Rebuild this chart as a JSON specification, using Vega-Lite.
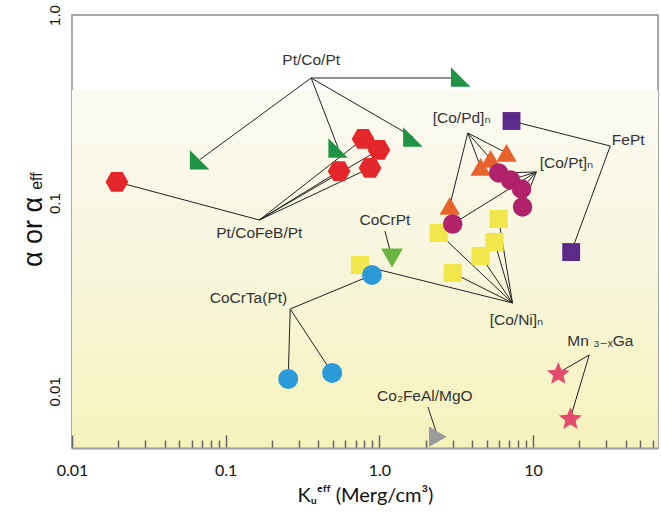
{
  "$schema": "https://vega.github.io/schema/vega-lite/v6.json",
  "width": 586,
  "height": 433,
  "autosize": {"type": "none"},
  "padding": {"left": 72, "top": 15, "right": 3, "bottom": 71},
  "background": "white",
  "config": {"view": {"stroke": "#8c8c8c", "strokeWidth": 1.5}},
  "datasets": {
    "bg": [{"x": 0.01, "x2": 65, "y": 0.005, "y2": 0.4}],
    "yminor": [
      {"y": 0.006}, {"y": 0.007}, {"y": 0.008}, {"y": 0.009},
      {"y": 0.02}, {"y": 0.03}, {"y": 0.04}, {"y": 0.05}, {"y": 0.06}, {"y": 0.07}, {"y": 0.08}, {"y": 0.09},
      {"y": 0.2}, {"y": 0.3}, {"y": 0.4}, {"y": 0.5}, {"y": 0.6}, {"y": 0.7}, {"y": 0.8}, {"y": 0.9}
    ],
    "ymajor": [{"y": 0.01}, {"y": 0.1}, {"y": 1.0}],
    "leaders": [
      {"x": 0.36, "y": 0.4626, "x2": 0.0676, "y2": 0.17},
      {"x": 0.36, "y": 0.4626, "x2": 0.539, "y2": 0.1965},
      {"x": 0.36, "y": 0.4626, "x2": 1.652, "y2": 0.2248},
      {"x": 0.36, "y": 0.4626, "x2": 3.38, "y2": 0.4626},
      {"x": 0.1655, "y": 0.0814, "x2": 0.0196, "y2": 0.1297},
      {"x": 0.1655, "y": 0.0814, "x2": 0.783, "y2": 0.2194},
      {"x": 0.1655, "y": 0.0814, "x2": 0.993, "y2": 0.1917},
      {"x": 0.1655, "y": 0.0814, "x2": 0.547, "y2": 0.148},
      {"x": 0.1655, "y": 0.0814, "x2": 0.869, "y2": 0.1538},
      {"x": 3.76, "y": 0.236, "x2": 2.87, "y2": 0.0967},
      {"x": 3.76, "y": 0.236, "x2": 4.56, "y2": 0.1557},
      {"x": 3.76, "y": 0.236, "x2": 5.29, "y2": 0.1718},
      {"x": 3.76, "y": 0.236, "x2": 6.72, "y2": 0.1848},
      {"x": 10.5, "y": 0.1465, "x2": 3.0, "y2": 0.0775},
      {"x": 10.5, "y": 0.1465, "x2": 5.97, "y2": 0.1447},
      {"x": 10.5, "y": 0.1465, "x2": 7.13, "y2": 0.1328},
      {"x": 10.5, "y": 0.1465, "x2": 8.41, "y2": 0.119},
      {"x": 10.5, "y": 0.1465, "x2": 8.54, "y2": 0.0955},
      {"x": 31.8, "y": 0.2013, "x2": 7.24, "y2": 0.2734},
      {"x": 31.8, "y": 0.2013, "x2": 17.7, "y2": 0.055},
      {"x": 1.087, "y": 0.0711, "x2": 1.208, "y2": 0.0511},
      {"x": 7.35, "y": 0.0295, "x2": 0.748, "y2": 0.0469},
      {"x": 7.35, "y": 0.0295, "x2": 2.43, "y2": 0.0694},
      {"x": 7.35, "y": 0.0295, "x2": 5.97, "y2": 0.0824},
      {"x": 7.35, "y": 0.0295, "x2": 5.62, "y2": 0.0622},
      {"x": 7.35, "y": 0.0295, "x2": 4.56, "y2": 0.0524},
      {"x": 7.35, "y": 0.0295, "x2": 3.0, "y2": 0.0426},
      {"x": 0.263, "y": 0.0274, "x2": 0.895, "y2": 0.0415},
      {"x": 0.263, "y": 0.0274, "x2": 0.255, "y2": 0.01164},
      {"x": 0.263, "y": 0.0274, "x2": 0.493, "y2": 0.01253},
      {"x": 23.2, "y": 0.0156, "x2": 14.6, "y2": 0.01253},
      {"x": 23.2, "y": 0.0156, "x2": 17.5, "y2": 0.00722},
      {"x": 2.07, "y": 0.00826, "x2": 2.4, "y2": 0.00573}
    ],
    "points": [
      {"s": "PtCoPt", "x": 0.0676, "y": 0.17},
      {"s": "PtCoPt", "x": 0.539, "y": 0.1965},
      {"s": "PtCoPt", "x": 1.652, "y": 0.2248},
      {"s": "PtCoPt", "x": 3.38, "y": 0.468},
      {"s": "PtCoFeBPt", "x": 0.0196, "y": 0.1297},
      {"s": "PtCoFeBPt", "x": 0.783, "y": 0.2194},
      {"s": "PtCoFeBPt", "x": 0.993, "y": 0.1917},
      {"s": "PtCoFeBPt", "x": 0.547, "y": 0.148},
      {"s": "PtCoFeBPt", "x": 0.869, "y": 0.1538},
      {"s": "CoNi", "x": 0.748, "y": 0.0469},
      {"s": "CoNi", "x": 2.43, "y": 0.0694},
      {"s": "CoNi", "x": 5.97, "y": 0.0824},
      {"s": "CoNi", "x": 5.62, "y": 0.0622},
      {"s": "CoNi", "x": 4.56, "y": 0.0524},
      {"s": "CoNi", "x": 3.0, "y": 0.0426},
      {"s": "CoPd", "x": 2.87, "y": 0.0967},
      {"s": "CoPd", "x": 4.56, "y": 0.1557},
      {"s": "CoPd", "x": 5.29, "y": 0.1718},
      {"s": "CoPd", "x": 6.72, "y": 0.1848},
      {"s": "CoPt", "x": 3.0, "y": 0.0775},
      {"s": "CoPt", "x": 5.97, "y": 0.1447},
      {"s": "CoPt", "x": 7.13, "y": 0.1328},
      {"s": "CoPt", "x": 8.41, "y": 0.119},
      {"s": "CoPt", "x": 8.54, "y": 0.0955},
      {"s": "FePt", "x": 7.24, "y": 0.2734},
      {"s": "FePt", "x": 17.7, "y": 0.055},
      {"s": "CoCrPt", "x": 1.208, "y": 0.0511},
      {"s": "CoCrTaPt", "x": 0.895, "y": 0.0415},
      {"s": "CoCrTaPt", "x": 0.255, "y": 0.01164},
      {"s": "CoCrTaPt", "x": 0.493, "y": 0.01253},
      {"s": "MnGa", "x": 14.6, "y": 0.01253},
      {"s": "MnGa", "x": 17.5, "y": 0.00722},
      {"s": "Co2FeAl", "x": 2.4, "y": 0.00573}
    ],
    "labels": [
      {"t": "Pt/Co/Pt", "x": 0.36, "y": 0.5766},
      {"t": "Pt/CoFeB/Pt", "x": 0.1655, "y": 0.0694},
      {"t": "[Co/Pd]ₙ", "x": 3.43, "y": 0.2836},
      {"t": "[Co/Pt]ₙ", "x": 16.5, "y": 0.1636},
      {"t": "FePt", "x": 41.6, "y": 0.2168},
      {"t": "CoCrPt", "x": 1.087, "y": 0.0814},
      {"t": "[Co/Ni]ₙ", "x": 7.8, "y": 0.02395},
      {"t": "CoCrTa(Pt)", "x": 0.1406, "y": 0.0314},
      {"t": "Mn ₃₋ₓGa", "x": 27.4, "y": 0.01853},
      {"t": "Co₂FeAl/MgO", "x": 1.977, "y": 0.00945}
    ],
    "ysub": [{"t": "eff", "x": 0.00593, "y": 0.131}]
  },
  "encoding": {
    "x": {
      "field": "x",
      "type": "quantitative",
      "scale": {"type": "log", "domain": [0.01, 65], "nice": false},
      "axis": {
        "zindex": 1,
        "values": [0.01,0.02,0.03,0.04,0.05,0.06,0.07,0.08,0.09,0.1,0.2,0.3,0.4,0.5,0.6,0.7,0.8,0.9,1,2,3,4,5,6,7,8,9,10,20,30,40,50,60],
        "labelExpr": "datum.value == 0.01 ? '0.01' : datum.value == 0.1 ? '0.1' : datum.value == 1 ? '1.0' : datum.value == 10 ? '10' : ''",
        "tickSize": {"condition": {"test": "datum.value == 0.01 || datum.value == 0.1 || datum.value == 1 || datum.value == 10", "value": -13}, "value": -8},
        "tickColor": "#666666",
        "tickWidth": 1.5,
        "labelPadding": 27,
        "domain": true,
        "domainColor": "#9a9a9a",
        "domainWidth": 2,
        "grid": false,
        "labelFont": "Lato",
        "labelFontSize": 16,
        "labelColor": "#111111",
        "labelFlush": false,
        "labelOverlap": false,
        "title": "Kᵤᵉᶠᶠ (Merg/cm³)",
        "titleFont": "Lato, DejaVu Sans",
        "titleFontSize": 20,
        "titleFontWeight": "normal",
        "titleColor": "#111111",
        "titlePadding": 2
      }
    },
    "y": {
      "field": "y",
      "type": "quantitative",
      "scale": {"type": "log", "domain": [0.005, 1.0], "nice": false},
      "axis": {
        "zindex": 1,
        "values": [0.01, 0.1, 1],
        "labelExpr": "datum.value == 0.01 ? '0.01' : datum.value == 0.1 ? '0.1' : '1.0'",
        "ticks": false,
        "labelPadding": 10,
        "labelAngle": 270,
        "labelAlign": "center",
        "labelBaseline": "bottom",
        "domain": false,
        "grid": false,
        "labelFont": "Liberation Sans",
        "labelFontSize": 15,
        "labelColor": "#111111",
        "labelFlush": false,
        "labelOverlap": false,
        "title": "α or α",
        "titleFont": "Liberation Sans",
        "titleFontSize": 27,
        "titleFontWeight": "normal",
        "titleColor": "#111111",
        "titlePadding": 0
      }
    }
  },
  "layer": [
    {
      "data": {"name": "bg"},
      "mark": {
        "type": "rect",
        "fill": {
          "gradient": "linear",
          "x1": 0, "y1": 0, "x2": 0, "y2": 1,
          "stops": [
            {"offset": 0, "color": "#fafaf3"},
            {"offset": 0.5, "color": "#f8f6dc"},
            {"offset": 1, "color": "#f6f2bc"}
          ]
        }
      },
      "encoding": {"x2": {"field": "x2"}, "y2": {"field": "y2"}}
    },
    {
      "data": {"name": "yminor"},
      "mark": {"type": "rule", "color": "#555555", "strokeWidth": 1.6},
      "encoding": {"x": {"datum": 0.01}, "x2": {"datum": 0.01135}}
    },
    {
      "data": {"name": "ymajor"},
      "mark": {"type": "rule", "color": "#555555", "strokeWidth": 1.6},
      "encoding": {"x": {"datum": 0.01}, "x2": {"datum": 0.0122}}
    },
    {
      "data": {"name": "leaders"},
      "mark": {"type": "rule", "color": "#222222", "strokeWidth": 1},
      "encoding": {"x2": {"field": "x2"}, "y2": {"field": "y2"}}
    },
    {
      "data": {"name": "points"},
      "transform": [{"filter": {"field": "s", "equal": "PtCoPt"}}],
      "mark": {"type": "point", "filled": true, "opacity": 1, "shape": "M-1,-1L-1,1L1,1Z", "color": "#1f9447", "size": 380}
    },
    {
      "data": {"name": "points"},
      "transform": [{"filter": {"field": "s", "equal": "PtCoFeBPt"}}],
      "mark": {"type": "point", "filled": true, "opacity": 1, "shape": "M-1,0L-0.5,-0.866L0.5,-0.866L1,0L0.5,0.866L-0.5,0.866Z", "color": "#e3272b", "size": 520}
    },
    {
      "data": {"name": "points"},
      "transform": [{"filter": {"field": "s", "equal": "CoNi"}}],
      "mark": {"type": "point", "filled": true, "opacity": 1, "shape": "square", "color": "#f1e64b", "size": 330}
    },
    {
      "data": {"name": "points"},
      "transform": [{"filter": {"field": "s", "equal": "CoPd"}}],
      "mark": {"type": "point", "filled": true, "opacity": 1, "shape": "triangle-up", "color": "#e8632b", "size": 420}
    },
    {
      "data": {"name": "points"},
      "transform": [{"filter": {"field": "s", "equal": "CoPt"}}],
      "mark": {"type": "point", "filled": true, "opacity": 1, "shape": "circle", "color": "#b0226a", "size": 380}
    },
    {
      "data": {"name": "points"},
      "transform": [{"filter": {"field": "s", "equal": "FePt"}}],
      "mark": {"type": "point", "filled": true, "opacity": 1, "shape": "square", "color": "#5c2a88", "size": 320}
    },
    {
      "data": {"name": "points"},
      "transform": [{"filter": {"field": "s", "equal": "CoCrPt"}}],
      "mark": {"type": "point", "filled": true, "opacity": 1, "shape": "triangle-down", "color": "#6db543", "size": 480}
    },
    {
      "data": {"name": "points"},
      "transform": [{"filter": {"field": "s", "equal": "CoCrTaPt"}}],
      "mark": {"type": "point", "filled": true, "opacity": 1, "shape": "circle", "color": "#2b9ad9", "size": 400}
    },
    {
      "data": {"name": "points"},
      "transform": [{"filter": {"field": "s", "equal": "MnGa"}}],
      "mark": {"type": "point", "filled": true, "opacity": 1, "shape": "M0,-0.9L0.2645,-0.2641L0.9511,-0.209L0.428,0.2391L0.5878,0.909L0,0.55L-0.5878,0.909L-0.428,0.2391L-0.9511,-0.209L-0.2645,-0.2641Z", "color": "#e44a6c", "size": 580}
    },
    {
      "data": {"name": "points"},
      "transform": [{"filter": {"field": "s", "equal": "Co2FeAl"}}],
      "mark": {"type": "point", "filled": true, "opacity": 1, "shape": "triangle-right", "color": "#9b9b9b", "size": 420}
    },
    {
      "data": {"name": "labels"},
      "mark": {"type": "text", "font": "Liberation Sans, DejaVu Sans", "fontSize": 15.5, "color": "#333333", "align": "center", "baseline": "middle"},
      "encoding": {"text": {"field": "t"}}
    },
    {
      "data": {"name": "ysub"},
      "mark": {"type": "text", "font": "Liberation Sans", "fontSize": 16, "color": "#111111", "align": "center", "baseline": "middle", "angle": 270},
      "encoding": {"text": {"field": "t"}}
    }
  ]
}
